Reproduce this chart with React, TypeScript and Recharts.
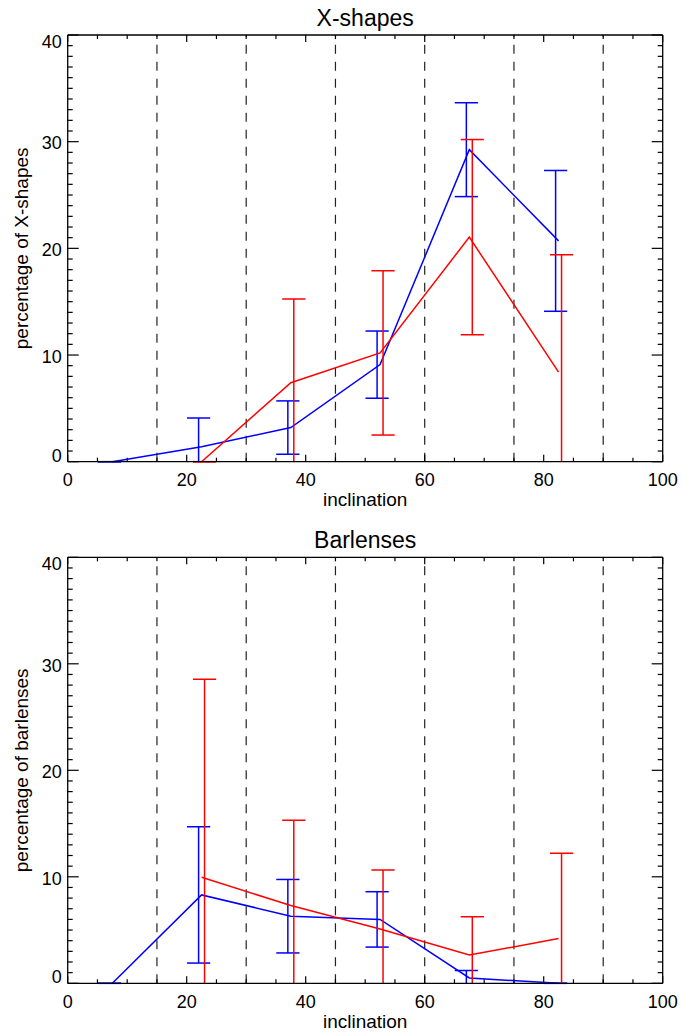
import React from 'react';
import {
  ComposedChart,
  Line,
  XAxis,
  YAxis,
  ReferenceLine,
  Customized,
} from 'recharts';

// inclination bins: centres of 0-15, 15-30, ... 75-90
const blueCentres = [7.5, 22.5, 37.5, 52.5, 67.5, 82.5];
const redCentres = [22.5, 37.5, 52.5, 67.5, 82.5];
const binEdges = [15, 30, 45, 60, 75, 90];

// X-shapes (percent)
const xshapeBlue = [0, 1.4, 3.2, 9.1, 29.25, 20.7];
const xshapeBlueErr = [0, 2.7, 2.5, 3.15, 4.4, 6.6];
const xshapeRed = [0, 7.4, 10.2, 21.05, 8.4];
const xshapeRedErr = [0, 7.85, 7.7, 9.15, 11.0];

// Barlenses (percent)
const barlensBlue = [0, 8.3, 6.3, 6.0, 0.5, 0];
const barlensBlueErr = [0, 6.4, 3.45, 2.6, 0.7, 0];
const barlensRed = [9.95, 7.3, 5.1, 2.65, 4.2];
const barlensRedErr = [18.6, 8.0, 5.55, 3.6, 8.0];

// axis ticks
const xTicks = [0, 5, 10, 15, 20, 25, 30, 35, 40, 45, 50, 55, 60, 65, 70, 75, 80, 85, 90, 95, 100];
const yTicks = [
  0, 1, 2, 3, 4, 5, 6, 7, 8, 9, 10, 11, 12, 13, 14, 15, 16, 17, 18, 19, 20,
  21, 22, 23, 24, 25, 26, 27, 28, 29, 30, 31, 32, 33, 34, 35, 36, 37, 38, 39, 40,
];

const FONT = '"Liberation Sans", Arial, Helvetica, sans-serif';
const BLUE = '#0000ff';
const RED = '#ff0000';
const INK = '#000000';
const X_MIN = 0;
const X_MAX = 100;
const Y_MIN = 0;
const Y_MAX = 40;
const ERR_SHIFT = 0.5; // error bars sit half a degree either side of the bin centre
const CAP_HALF = 1.95; // half cap width, in degrees
// inward tick lengths, in data units (about 7/4 px on x, 11/5 px on y)
const X_TICK_MAJOR = 0.66;
const X_TICK_MINOR = 0.38;
const Y_TICK_MAJOR = 1.85;
const Y_TICK_MINOR = 0.84;
const PLOT_W = 595;

type Row = { x: number; y: number; err: number };

const toRows = (xs: number[], ys: number[], errs: number[], shift = 0): Row[] =>
  xs.map((x, i) => ({ x: x + shift, y: ys[i], err: errs[i] }));

// error bars as segments; the parts running below zero get clipped to the plot
const errorBars = (rows: Row[], color: string, key: string) =>
  rows.flatMap((r, i) => {
    const lo = r.y - r.err;
    const hi = r.y + r.err;
    const overflow = lo < 0 ? ('hidden' as const) : ('visible' as const);
    const common = { stroke: color, strokeWidth: 1.5, ifOverflow: overflow };
    return [
      <ReferenceLine key={`${key}v${i}`} segment={[{ x: r.x, y: lo }, { x: r.x, y: hi }]} {...common} />,
      <ReferenceLine key={`${key}l${i}`} segment={[{ x: r.x - CAP_HALF, y: lo }, { x: r.x + CAP_HALF, y: lo }]} {...common} />,
      <ReferenceLine key={`${key}h${i}`} segment={[{ x: r.x - CAP_HALF, y: hi }, { x: r.x + CAP_HALF, y: hi }]} {...common} />,
    ];
  });

// inward-pointing ticks on all four sides of the box
const tickMarks = () => {
  const common = { stroke: INK, strokeWidth: 1.2, ifOverflow: 'visible' as const };
  const xs = xTicks.flatMap((v) => {
    const len = v % 20 === 0 ? X_TICK_MAJOR : X_TICK_MINOR;
    return [
      <ReferenceLine key={`tb${v}`} segment={[{ x: v, y: Y_MIN }, { x: v, y: Y_MIN + len }]} {...common} />,
      <ReferenceLine key={`tt${v}`} segment={[{ x: v, y: Y_MAX }, { x: v, y: Y_MAX - len }]} {...common} />,
    ];
  });
  const ys = yTicks.flatMap((v) => {
    const len = v % 10 === 0 ? Y_TICK_MAJOR : Y_TICK_MINOR;
    return [
      <ReferenceLine key={`tl${v}`} segment={[{ x: X_MIN, y: v }, { x: X_MIN + len, y: v }]} {...common} />,
      <ReferenceLine key={`tr${v}`} segment={[{ x: X_MAX, y: v }, { x: X_MAX - len, y: v }]} {...common} />,
    ];
  });
  return [...xs, ...ys];
};

const BottomLabel = (props: any) => {
  const x = Number(props.x);
  const y = Number(props.y);
  const v = props.payload.value;
  if (v % 20 !== 0) return <g />;
  return (
    <text x={x} y={y + 24.5} textAnchor="middle" fontSize={18} fontFamily={FONT} fill={INK}>
      {v}
    </text>
  );
};

const LeftLabel = (props: any) => {
  const x = Number(props.x);
  const y = Number(props.y);
  const v = props.payload.value;
  if (v % 10 !== 0) return <g />;
  let base = y + 7.7;
  if (v === Y_MIN) base = y;
  if (v === Y_MAX) base = y + 13;
  return (
    <text x={x - 6} y={base} textAnchor="end" fontSize={18} fontFamily={FONT} fill={INK}>
      {v}
    </text>
  );
};

interface PanelProps {
  title: string;
  yLabel: string;
  blue: number[];
  blueErr: number[];
  red: number[];
  redErr: number[];
  marginTop: number;
  plotH: number;
  height: number;
}

function Panel({ title, yLabel, blue, blueErr, red, redErr, marginTop, plotH, height }: PanelProps) {
  const blueLine = toRows(blueCentres, blue, blueErr);
  const redLine = toRows(redCentres, red, redErr);
  const blueBars = toRows(blueCentres, blue, blueErr, -ERR_SHIFT);
  const redBars = toRows(redCentres, red, redErr, ERR_SHIFT);
  const left = 67.7;
  const cx = left + PLOT_W / 2;
  const axisLine = { stroke: INK, strokeWidth: 1.3 };

  return (
    <ComposedChart
      width={681}
      height={height}
      margin={{
        top: marginTop - 1,
        right: 681 - left - PLOT_W - 1,
        bottom: height - marginTop - plotH - 1,
        left: left - 1,
      }}
    >
      <XAxis
        dataKey="x"
        type="number"
        domain={[X_MIN, X_MAX]}
        ticks={xTicks}
        interval={0}
        height={1}
        tickSize={0}
        tickMargin={0}
        tickLine={false}
        tick={BottomLabel}
        axisLine={axisLine}
      />
      <XAxis
        xAxisId="top"
        orientation="top"
        dataKey="x"
        type="number"
        domain={[X_MIN, X_MAX]}
        height={1}
        tickLine={false}
        tick={false}
        axisLine={axisLine}
      />
      <YAxis
        type="number"
        domain={[Y_MIN, Y_MAX]}
        ticks={yTicks}
        interval={0}
        width={1}
        tickSize={0}
        tickMargin={0}
        tickLine={false}
        tick={LeftLabel}
        axisLine={axisLine}
      />
      <YAxis
        yAxisId="right"
        orientation="right"
        type="number"
        domain={[Y_MIN, Y_MAX]}
        width={1}
        tickLine={false}
        tick={false}
        axisLine={axisLine}
      />

      {binEdges.map((e) => (
        <ReferenceLine key={e} x={e} stroke="#222" strokeWidth={1.2} strokeDasharray="9 8" />
      ))}

      {tickMarks()}

      <Line
        data={blueLine}
        dataKey="y"
        type="linear"
        stroke={BLUE}
        strokeWidth={1.5}
        dot={false}
        activeDot={false}
        isAnimationActive={false}
      />
      {errorBars(blueBars, BLUE, 'b')}

      <Line
        data={redLine}
        dataKey="y"
        type="linear"
        stroke={RED}
        strokeWidth={1.5}
        dot={false}
        activeDot={false}
        isAnimationActive={false}
      />
      {errorBars(redBars, RED, 'r')}

      <Customized
        component={() => (
          <g fontFamily={FONT} fill={INK}>
            <text x={cx} y={marginTop - 9.3} textAnchor="middle" fontSize={23}>
              {title}
            </text>
            <text x={cx} y={marginTop + plotH + 44.5} textAnchor="middle" fontSize={19}>
              inclination
            </text>
            <text
              x={28}
              y={marginTop + plotH / 2}
              textAnchor="middle"
              fontSize={19}
              transform={`rotate(-90, 28, ${marginTop + plotH / 2})`}
            >
              {yLabel}
            </text>
          </g>
        )}
      />
    </ComposedChart>
  );
}

export default function App() {
  return (
    <div style={{ position: 'absolute', left: 0, top: 0, width: 681, height: 1034 }}>
      <Panel
        title="X-shapes"
        yLabel="percentage of X-shapes"
        blue={xshapeBlue}
        blueErr={xshapeBlueErr}
        red={xshapeRed}
        redErr={xshapeRedErr}
        marginTop={35}
        plotH={426.7}
        height={517}
      />
      <Panel
        title="Barlenses"
        yLabel="percentage of barlenses"
        blue={barlensBlue}
        blueErr={barlensBlueErr}
        red={barlensRed}
        redErr={barlensRedErr}
        marginTop={40.3}
        plotH={426}
        height={517}
      />
    </div>
  );
}
